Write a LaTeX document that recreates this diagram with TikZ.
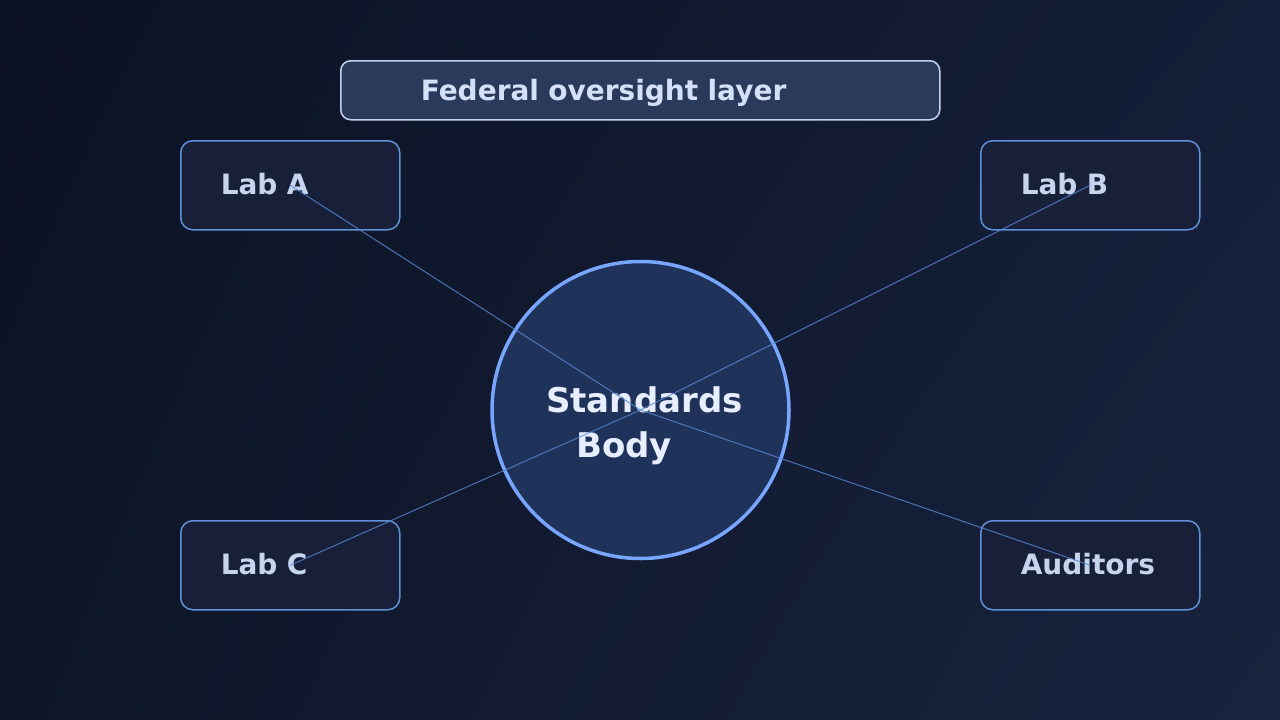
\documentclass[tikz,border=0pt]{standalone}
\usepackage{fontspec}
\setmainfont{DejaVu Sans}
\usetikzlibrary{shadings}

\definecolor{bgtl}{HTML}{0C1224}
\definecolor{bgtr}{HTML}{141E38}
\definecolor{bgbl}{HTML}{0E1528}
\definecolor{bgbr}{HTML}{18243F}
\definecolor{labfill}{HTML}{172038}
\definecolor{labedge}{HTML}{6090D8}
\definecolor{labtext}{HTML}{C6D4EE}
\definecolor{hdrfill}{HTML}{293A5B}
\definecolor{hdredge}{HTML}{C0D0F0}
\definecolor{hdrtext}{HTML}{D4E0F8}
\definecolor{sbfill}{HTML}{1F3259}
\definecolor{sbedge}{HTML}{78A6FF}
\definecolor{sbtext}{HTML}{E6EEFF}
\definecolor{wire}{HTML}{5A88D0}

\begin{document}
\begin{tikzpicture}
[
    x=1pt, y=-1pt,
    labbox/.style={draw=labedge, line width=1.5pt, fill=labfill, rounded corners=12pt,
        minimum width=219pt, minimum height=89pt, inner xsep=40pt, text width=139pt,
        align=left, text height=20pt, text depth=1pt, text=labtext,
        font=\fontsize{28}{34}\selectfont\bfseries},
    hdrbox/.style={draw=hdredge, line width=1.5pt, fill=hdrfill, rounded corners=10pt,
        minimum width=599pt, minimum height=59pt, inner xsep=80pt, text width=439pt,
        align=left, text height=20pt, text depth=0pt, text=hdrtext,
        font=\fontsize{28}{34}\selectfont\bfseries},
    sbcircle/.style={circle, draw=sbedge, line width=3.5pt, fill=sbfill,
        minimum size=297pt, inner sep=0pt},
    sbline/.style={anchor=base west, inner sep=0pt, text=sbtext,
        font=\fontsize{34}{44}\selectfont\bfseries},
    wireline/.style={draw=wire, line width=1pt, draw opacity=0.8},
]
% background
\useasboundingbox (0,0) rectangle (1280,720);
\shade[upper left=bgtl, upper right=bgtr, lower left=bgbl, lower right=bgbr]
    (0,0) rectangle (1280,720);

\node [hdrbox] (hdr) at (640.25,90.25) {Federal oversight layer};
\node [labbox] (laba) at (290.25,185.25) {Lab A};
\node [labbox] (labb) at (1090.25,185.25) {Lab B};
\node [labbox] (labc) at (290.25,565.25) {Lab C};
\node [labbox] (aud) at (1090.25,565.25) {Auditors};

\node [sbcircle] (sb) at (640.5,410) {};
\node [sbline] (sbtop) at (546,412) {Standards};
\node [sbline] (sbbot) at (576,457) {Body};

% spokes
\foreach \n in {laba,labb,labc,aud}
    \path [wireline] (\n.center) -- (sb.center);
\end{tikzpicture}
\end{document}
